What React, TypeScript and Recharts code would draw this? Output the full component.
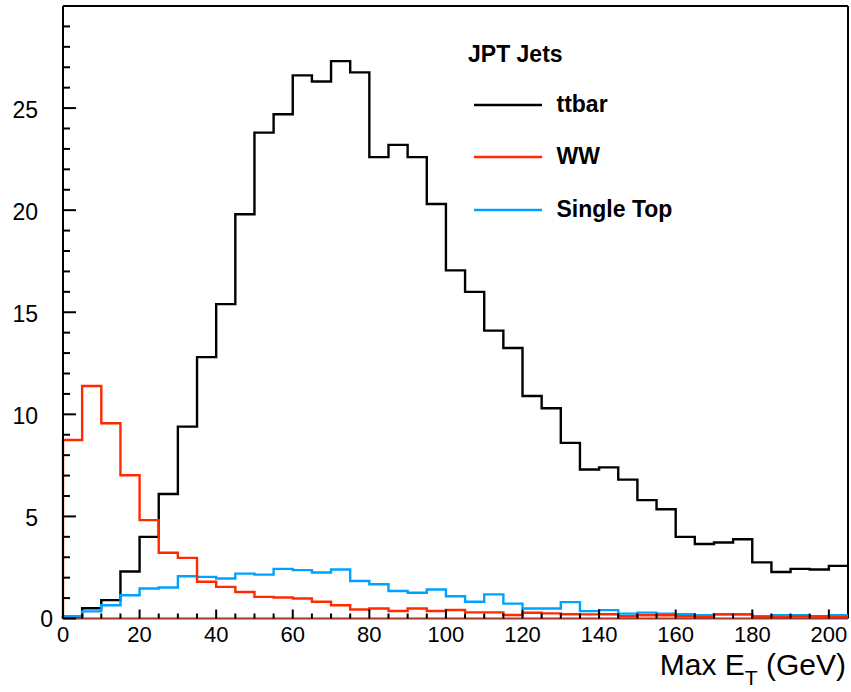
import React from 'react';
import { ComposedChart, Line, XAxis, YAxis, ReferenceLine, Legend } from 'recharts';

// ---- data ----
const binLow = [0, 5, 10, 15, 20, 25, 30, 35, 40, 45, 50, 55, 60, 65, 70, 75, 80, 85, 90, 95, 100, 105, 110, 115, 120, 125, 130, 135, 140, 145, 150, 155, 160, 165, 170, 175, 180, 185, 190, 195, 200];
const xUpper = 205;
const ttbar = [0.05, 0.5, 0.9, 2.3, 4.0, 6.1, 9.4, 12.8, 15.4, 19.8, 23.8, 24.7, 26.6, 26.3, 27.3, 26.75, 22.6, 23.2, 22.6, 20.3, 17.05, 16.0, 14.1, 13.25, 10.9, 10.3, 8.6, 7.3, 7.4, 6.8, 5.8, 5.35, 4.0, 3.65, 3.72, 3.88, 2.75, 2.28, 2.43, 2.4, 2.58];
const ww = [8.74, 11.39, 9.56, 7.02, 4.82, 3.22, 2.97, 1.8, 1.55, 1.3, 1.06, 1.03, 0.98, 0.82, 0.65, 0.44, 0.49, 0.37, 0.49, 0.37, 0.42, 0.3, 0.3, 0.17, 0.28, 0.25, 0.21, 0.2, 0.21, 0.11, 0.16, 0.16, 0.11, 0.08, 0.2, 0.2, 0.08, 0.08, 0.1, 0.1, 0.08];
const singleTop = [0.11, 0.35, 0.65, 1.14, 1.47, 1.52, 2.07, 2.04, 1.96, 2.2, 2.15, 2.43, 2.37, 2.25, 2.4, 1.84, 1.68, 1.35, 1.26, 1.42, 1.09, 0.82, 1.18, 0.73, 0.49, 0.49, 0.8, 0.36, 0.41, 0.24, 0.29, 0.24, 0.21, 0.16, 0.21, 0.21, 0.11, 0.16, 0.16, 0.11, 0.16];

const xTicks = [0, 5, 10, 15, 20, 25, 30, 35, 40, 45, 50, 55, 60, 65, 70, 75, 80, 85, 90, 95, 100, 105, 110, 115, 120, 125, 130, 135, 140, 145, 150, 155, 160, 165, 170, 175, 180, 185, 190, 195, 200];
const xMajorTicks = [0, 20, 40, 60, 80, 100, 120, 140, 160, 180, 200];
const yTicks = [0, 1, 2, 3, 4, 5, 6, 7, 8, 9, 10, 11, 12, 13, 14, 15, 16, 17, 18, 19, 20, 21, 22, 23, 24, 25, 26, 27, 28, 29, 30];
const yMajorTicks = [0, 5, 10, 15, 20, 25];
const legendTitle = 'JPT Jets';
const legendOrder = ['ttbar', 'WW', 'Single Top'];

// ---- table for the library ----
const last = binLow.length - 1;
const data = [
  { x: binLow[0], ttbar: 0, ww: 0, st: 0 },
  ...binLow.map((x, i) => ({ x, ttbar: ttbar[i], ww: ww[i], st: singleTop[i] })),
  { x: xUpper, ttbar: ttbar[last], ww: ww[last], st: singleTop[last] },
];

// ---- layout/styles ----
const W = 851;
const H = 692;
const PLOT_LEFT = 63;
const PLOT_BOTTOM = 618.5;
const FONT = '"Liberation Sans", Arial, Helvetica, sans-serif';
const RED = '#ff2a00';
const BLUE = '#00a2ff';
const LW = 2.4;

const YTick = (props: any) => {
  const { y, payload } = props;
  const v = payload.value;
  const major = yMajorTicks.includes(v);
  return (
    <g>
      <line x1={PLOT_LEFT} x2={PLOT_LEFT + (major ? 13 : 7)} y1={y} y2={y} stroke="#000" strokeWidth={2} />
      {major && (
        <text x={v === 0 ? 53 : 38} y={y + (v === 0 ? 8.5 : 9.5)} textAnchor="end" fontSize={23} fontFamily={FONT} fill="#000">
          {v}
        </text>
      )}
    </g>
  );
};

const XTick = (props: any) => {
  const { x, payload } = props;
  const v = payload.value;
  const major = xMajorTicks.includes(v);
  return (
    <g>
      <line x1={x} x2={x} y1={PLOT_BOTTOM} y2={PLOT_BOTTOM - (major ? 9 : 5)} stroke="#000" strokeWidth={2} />
      {major && (
        <text x={x} y={642} textAnchor="middle" fontSize={22} fontFamily={FONT} fill="#000">
          {v}
        </text>
      )}
    </g>
  );
};

const XTitle = () => (
  <text x={846} y={675} textAnchor="end" fontSize={30} fontFamily={FONT} fill="#000">
    Max E
    <tspan fontSize={21} dy={10}>T</tspan>
    <tspan dy={-10}> (GeV)</tspan>
  </text>
);

const LegendContent = (props: any) => {
  const payload = (props.payload || []).slice().sort(
    (a: any, b: any) => legendOrder.indexOf(a.value) - legendOrder.indexOf(b.value)
  );
  const ys = [105, 157, 210];
  return (
    <svg width={W} height={H} style={{ position: 'absolute', left: 0, top: 0, pointerEvents: 'none', overflow: 'visible' }}>
      <text x={468} y={61.5} fontSize={23} fontWeight="bold" fontFamily={FONT} fill="#000">
        {legendTitle}
      </text>
      {payload.map((p: any, i: number) => (
        <g key={p.value}>
          <line x1={474} x2={542} y1={ys[i]} y2={ys[i]} stroke={p.color} strokeWidth={LW} />
          <text x={556.5} y={ys[i] + 7} fontSize={23} fontWeight="bold" fontFamily={FONT} fill="#000">
            {p.value}
          </text>
        </g>
      ))}
    </svg>
  );
};

export default function App() {
  return (
    <div style={{ position: 'absolute', left: 0, top: 0, width: W, height: H, background: '#fff' }}>
      <ComposedChart width={W} height={H} data={data} margin={{ top: 6, right: 3, left: 0, bottom: 0 }}>
        <XAxis
          dataKey="x"
          type="number"
          domain={[0, xUpper]}
          ticks={xTicks}
          interval={0}
          height={73.5}
          tickLine={false}
          tickSize={0}
          tick={<XTick />}
          axisLine={{ stroke: '#a3372d', strokeWidth: 2.2 }}
          label={<XTitle />}
        />
        <YAxis
          type="number"
          domain={[0, 30]}
          ticks={yTicks}
          interval={0}
          width={63}
          tickLine={false}
          tickSize={0}
          tick={<YTick />}
          axisLine={{ stroke: '#000', strokeWidth: 2 }}
        />
        <ReferenceLine y={30} stroke="#000" strokeWidth={2} />
        <ReferenceLine x={xUpper} stroke="#000" strokeWidth={2} />
        <Line type="stepAfter" dataKey="ttbar" name="ttbar" stroke="#000" strokeWidth={LW} dot={false} isAnimationActive={false} />
        <Line type="stepAfter" dataKey="st" name="Single Top" stroke={BLUE} strokeWidth={LW} dot={false} isAnimationActive={false} />
        <Line type="stepAfter" dataKey="ww" name="WW" stroke={RED} strokeWidth={LW} dot={false} isAnimationActive={false} />
        <Legend
          content={<LegendContent />}
          wrapperStyle={{ position: 'absolute', left: 0, top: 0, width: 0, height: 0, overflow: 'visible' }}
        />
      </ComposedChart>
    </div>
  );
}
